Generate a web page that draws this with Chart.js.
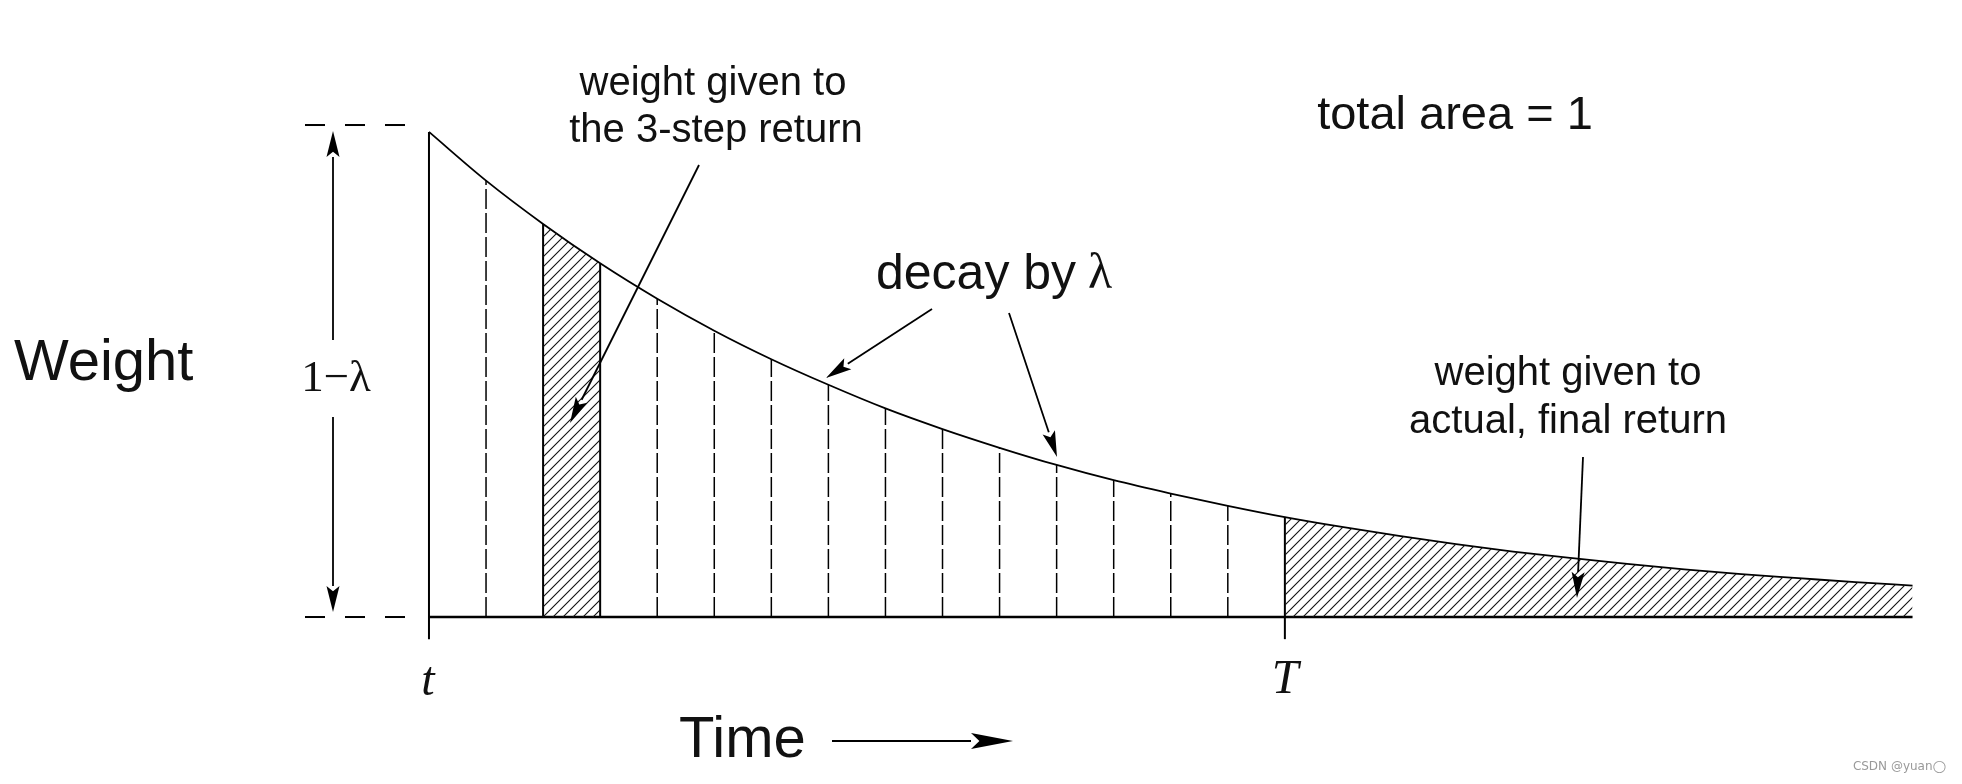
<!DOCTYPE html>
<html lang="en">
<head>
  <meta charset="UTF-8">
  <title>TD(lambda) weighting</title>
  <script src="https://cdn.jsdelivr.net/npm/chart.js"></script>
  <style>
    html, body { margin: 0; padding: 0; background: #fff; }
    #weightChart { display: block; }
  </style>
</head>
<body>
  <canvas id="weightChart" width="1962" height="784"></canvas>

  <script>
    // time steps after t, and the weight (in units of 1-lambda)
    const steps = [0, 1, 2, 3, 4, 5, 6, 7, 8, 9, 10, 11, 12, 13, 14, 15, 16, 17, 18, 19, 20, 21, 22, 23, 24, 25, 26];
    const weights = [0.986, 0.887, 0.799, 0.719, 0.647, 0.582, 0.524, 0.472, 0.424, 0.382, 0.344, 0.309, 0.278,
                     0.251, 0.226, 0.203, 0.183, 0.165, 0.148, 0.133, 0.120, 0.108, 0.097, 0.087, 0.079, 0.071, 0.064];
    const threeStepReturn = [2, 3];   // shaded strip
    const finalStep = 15;             // T
    const solidSteps = [0, 2, 3, 15];
    const tickSteps = [0, 15];

    const ctx = document.getElementById('weightChart').getContext('2d');

    function makeHatch() {
      const s = 10;
      const c = document.createElement('canvas');
      c.width = s; c.height = s;
      const g = c.getContext('2d');
      g.strokeStyle = '#111';
      g.lineWidth = 1.1;
      g.beginPath();
      g.moveTo(-1, s + 1); g.lineTo(s + 1, -1);
      g.moveTo(-1, 1); g.lineTo(1, -1);
      g.moveTo(s - 1, s + 1); g.lineTo(s + 1, s - 1);
      g.stroke();
      return ctx.createPattern(c, 'repeat');
    }
    const hatch = makeHatch();

    const pts = (from, to) => steps.filter(s => s >= from && s <= to).map(s => ({ x: s, y: weights[s] }));

    const datasets = [];

    // hatched areas
    datasets.push({ data: pts(threeStepReturn[0], threeStepReturn[1]), fill: 'origin', backgroundColor: hatch, borderWidth: 0 });
    datasets.push({ data: pts(finalStep, steps[steps.length - 1]), fill: 'origin', backgroundColor: hatch, borderWidth: 0 });

    // vertical lines at every step up to T
    steps.filter(s => s <= finalStep).forEach(s => {
      const solid = solidSteps.includes(s);
      datasets.push({
        data: [{ x: s, y: tickSteps.includes(s) ? -0.045 : 0 }, { x: s, y: weights[s] }],
        borderColor: '#000',
        borderWidth: solid ? 2 : 1.5,
        borderDash: solid ? [] : [20, 4],
        fill: false
      });
    });

    // baseline
    datasets.push({ data: [{ x: steps[0], y: 0 }, { x: steps[steps.length - 1], y: 0 }], borderColor: '#000', borderWidth: 2.5, fill: false });

    // decay curve
    datasets.push({ data: pts(0, steps[steps.length - 1]), borderColor: '#000', borderWidth: 1.8, fill: false, tension: 0.3, cubicInterpolationMode: 'monotone' });

    function arrow(c, x1, y1, x2, y2, len = 26, half = 6.5) {
      const a = Math.atan2(y2 - y1, x2 - x1);
      const bx = x2 - len * Math.cos(a), by = y2 - len * Math.sin(a);
      c.beginPath();
      c.moveTo(x1, y1); c.lineTo(bx, by);
      c.stroke();
      c.beginPath();
      c.moveTo(x2, y2);
      c.lineTo(bx + half * Math.sin(a), by - half * Math.cos(a));
      c.lineTo(x2 - len * 0.8 * Math.cos(a), y2 - len * 0.8 * Math.sin(a));
      c.lineTo(bx - half * Math.sin(a), by + half * Math.cos(a));
      c.closePath();
      c.fill();
    }

    const annotations = {
      id: 'annotations',
      afterDatasetsDraw(chart) {
        const c = chart.ctx;
        const y = chart.scales.y;
        c.save();
        c.strokeStyle = '#000';
        c.fillStyle = '#000';
        c.lineWidth = 2;

        // dashed guides for 1-lambda
        c.setLineDash([20, 20]);
        [1, 0].forEach(v => {
          c.beginPath();
          c.moveTo(305, y.getPixelForValue(v));
          c.lineTo(412, y.getPixelForValue(v));
          c.stroke();
        });
        c.setLineDash([]);

        c.lineWidth = 1.8;
        arrow(c, 333, 340, 333, 131);
        arrow(c, 333, 417, 333, 612);
        arrow(c, 699, 165, 570, 423);
        arrow(c, 932, 309, 826, 378);
        arrow(c, 1009, 313, 1057, 457);
        arrow(c, 1583, 457, 1577, 598);
        c.lineWidth = 2;
        arrow(c, 832, 741, 1013, 741, 42, 8);

        c.fillStyle = '#111';
        c.textAlign = 'center';
        c.textBaseline = 'middle';
        c.font = '40px "Liberation Sans"';
        c.fillText('weight given to', 713, 84);
        c.fillText('the 3-step return', 716, 131);
        c.fillText('weight given to', 1568, 374);
        c.fillText('actual, final return', 1568, 422);

        c.font = '47px "Liberation Sans"';
        c.fillText('total area = 1', 1455, 116);
        c.textAlign = 'right';
        c.font = '50px "Liberation Sans"';
        c.fillText('decay by ', 1090, 275);
        c.textAlign = 'left';
        c.font = '50px "Liberation Serif"';
        c.fillText('λ', 1088, 275);

        c.font = '58px "Liberation Sans"';
        c.fillText('Weight', 14, 364);
        c.fillText('Time', 679, 741);

        c.textAlign = 'center';
        c.font = '45px "Liberation Serif"';
        c.fillText('1−λ', 336, 379);
        c.font = 'italic 48px "Liberation Serif"';
        c.fillText('t', 428, 682);
        c.fillText('T', 1285, 680);

        c.font = '12px "DejaVu Sans"';
        c.fillStyle = '#999';
        c.textAlign = 'right';
        c.fillText('CSDN @yuan◯', 1946, 767);
        c.restore();
      }
    };

    new Chart(ctx, {
      type: 'scatter',
      data: { datasets: datasets.map(d => Object.assign({ showLine: true, pointRadius: 0, borderColor: '#000' }, d)) },
      options: {
        responsive: false,
        animation: false,
        layout: { padding: 0 },
        plugins: { legend: { display: false }, tooltip: { enabled: false } },
        scales: {
          x: { type: 'linear', min: -7.518, max: 26.867, display: false },
          y: { type: 'linear', min: -0.3394, max: 1.2541, display: false }
        }
      },
      plugins: [annotations]
    });
  </script>
</body>
</html>
